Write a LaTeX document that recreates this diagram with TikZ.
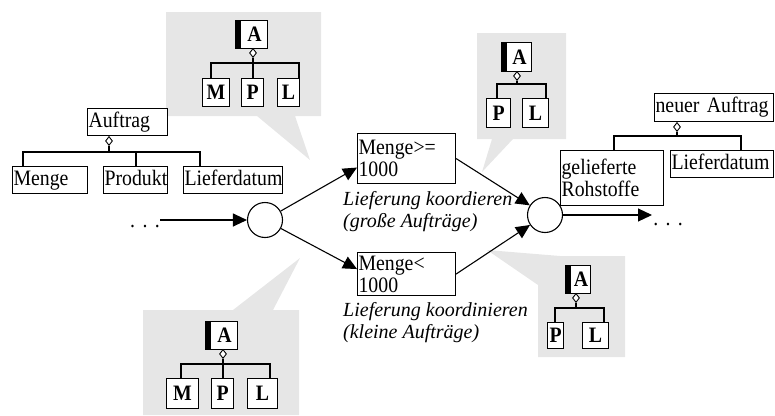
\documentclass[tikz,border=0pt]{standalone}
\usepackage{fontspec}
\setmainfont[FakeStretch=0.9]{Liberation Serif}
\newfontfamily\plainserif{Liberation Serif}
\usetikzlibrary{arrows.meta,shapes.geometric}
\definecolor{callout}{HTML}{E6E6E6}
\newcommand\myfs{\fontsize{22}{22}\selectfont}
\begin{document}
\begin{tikzpicture}[x=1pt,y=-1pt,
 ln/.style={line width=1.1pt},
 arr/.style={ln,-{Triangle[length=14pt,width=13pt]}},
 box/.style={draw, fill=white, line width=1.1pt, anchor=north west, font=\myfs, inner ysep=0pt, inner xsep=1pt, align=left},
 one/.style={text height=14.5pt, text depth=4.5pt},
 sq/.style={draw, fill=white, line width=1.1pt, anchor=north west, font=\myfs\bfseries, inner sep=0pt, text height=14.5pt, text depth=0pt},
 dia/.style={diamond, draw, fill=white, line width=0.9pt, inner sep=0pt, minimum width=7pt, minimum height=9pt, anchor=north},
 circ/.style={circle, draw, line width=1.1pt, minimum size=35pt, inner sep=0pt},
 lab/.style={font=\plainserif\fontsize{20}{22}\selectfont\itshape, align=left, anchor=west, inner sep=0pt},
 dots/.style={font=\myfs, anchor=base, inner sep=0pt},
]
\useasboundingbox (0,0) rectangle (775,415);

% callouts
\fill[callout] (166,12) -- (321,12) -- (321,116) -- (295,116) -- (310,160) -- (257,116) -- (166,116) -- cycle;
\fill[callout] (477,33) -- (566,33) -- (566,139) -- (513,139) -- (482,172) -- (492,139) -- (477,139) -- cycle;
\fill[callout] (143,310) -- (233,310) -- (300,258) -- (273,310) -- (299,310) -- (299,415) -- (143,415) -- cycle;
\fill[callout] (560,256) -- (625,256) -- (625,357) -- (538,357) -- (538,285) -- (487,250) -- cycle;

% Auftrag
\node[box,one,text width=78pt,minimum height=27pt] (auf) at (87,108) {Auftrag};
\node[box,one,text width=73pt,minimum height=27pt] (men) at (12,166) {Menge};
\node[box,one,text width=62pt,minimum height=27pt] (prod) at (103,166) {Produkt};
\node[box,one,text width=97pt,minimum height=27pt] (lief) at (183,166) {Lieferdatum};
\node[dia] (d1) at (109,136) {};
\coordinate (b1l) at (23,152);
\coordinate (b1m) at (136,152);
\coordinate (b1r) at (200,152);
\draw[ln] (d1.south) -- (d1.south |- b1l);
\draw[ln] (b1l |- men.north) -- (b1l) -- (b1r) -- (b1r |- lief.north);
\draw[ln] (b1m) -- (b1m |- prod.north);

% top-left callout content
\node[sq,minimum width=32pt,minimum height=28pt] (tlA) at (235,20) {\hspace{6pt}A};
\node[sq,minimum width=27pt,minimum height=28pt] (tlM) at (202,78) {M};
\node[sq,minimum width=22pt,minimum height=28pt] (tlP) at (241,78) {P};
\node[sq,minimum width=22pt,minimum height=28pt] (tlL) at (277,78) {L};
\node[dia] (tld) at (253,48) {};
\coordinate (tlb1) at (211,63);
\coordinate (tlb2) at (253,63);
\coordinate (tlb3) at (299,63);
\draw[ln] (tld.south) -- (tlb2);
\draw[ln] (tlb1 |- tlM.north) -- (tlb1) -- (tlb3) -- (tlb3 |- tlL.north);
\draw[ln] (tlb2) -- (tlb2 |- tlP.north);

% top-right callout content
\node[sq,minimum width=30pt,minimum height=29pt] (trA) at (501,42) {\hspace{6pt}A};
\node[sq,minimum width=24pt,minimum height=29pt] (trP) at (486,98) {P};
\node[sq,minimum width=26pt,minimum height=29pt] (trL) at (522,98) {L};
\node[dia] (trd) at (517,71) {};
\coordinate (trb1) at (497,84);
\coordinate (trb2) at (546,84);
\draw[ln] (trd.south) -- (trd.south |- trb1);
\draw[ln] (trb1 |- trP.north) -- (trb1) -- (trb2) -- (trb2 |- trL.north);

% bottom-right callout content
\node[sq,minimum width=25pt,minimum height=28pt] (brA) at (565,265) {\hspace{6pt}A};
\node[sq,minimum width=16pt,minimum height=26pt] (brP) at (547,322) {P};
\node[sq,minimum width=26pt,minimum height=26pt] (brL) at (582,322) {L};
\node[dia] (brd) at (576,293) {};
\coordinate (brb1) at (555,308);
\coordinate (brb2) at (604,308);
\draw[ln] (brd.south) -- (brd.south |- brb1);
\draw[ln] (brb1 |- brP.north) -- (brb1) -- (brb2) -- (brb2 |- brL.north);

% bottom-left callout content
\node[sq,minimum width=32pt,minimum height=28pt] (blA) at (205,321) {\hspace{6pt}A};
\node[sq,minimum width=32pt,minimum height=30pt] (blM) at (166,378) {M};
\node[sq,minimum width=22pt,minimum height=30pt] (blP) at (211,378) {P};
\node[sq,minimum width=30pt,minimum height=30pt] (blL) at (247,378) {L};
\node[dia] (bld) at (223,349) {};
\coordinate (blb1) at (181,364);
\coordinate (blb2) at (223,364);
\coordinate (blb3) at (270,364);
\draw[ln] (bld.south) -- (blb2);
\draw[ln] (blb1 |- blM.north) -- (blb1) -- (blb3) -- (blb3 |- blL.north);
\draw[ln] (blb2) -- (blb2 |- blP.north);

% black bars
\foreach \n in {tlA,trA,brA,blA}
  \fill (\n.north west) rectangle ([xshift=6pt]\n.south west);

% process
\node[circ] (c1) at (265,220) {};
\node[circ] (c2) at (545,215) {};
\node[box,text width=96pt,minimum height=50pt] (mg1) at (357,133) {Menge>=\\1000};
\node[box,text width=96pt,minimum height=43pt] (mg2) at (357,252) {Menge<\\1000};
\node[lab] (l1) at (343,212) {Lieferung koordieren\\(große Aufträge)};
\node[lab] (l2) at (343,323) {Lieferung koordinieren\\(kleine Aufträge)};

% result
\node[box,one,text width=117pt,minimum height=28pt] (neu) at (654,93) {neuer Auftrag};
\node[box,text width=101pt,minimum height=55pt] (gel) at (560,150) {gelieferte\\Rohstoffe};
\node[box,one,text width=101pt,minimum height=27pt] (lief2) at (670,150) {Lieferdatum};
\node[dia] (d2) at (677,122) {};
\coordinate (rb1) at (614,136);
\coordinate (rb2) at (741,136);
\draw[ln] (d2.south) -- (d2.south |- rb1);
\draw[ln] (rb1 |- gel.north) -- (rb1) -- (rb2) -- (rb2 |- lief2.north);

% arrows
\node[dots] (dotl) at (145,227) {.\,\,.\,\,.};
\coordinate (s1) at (160,220);
\draw[arr] (s1) -- (c1);
\draw[arr] (c1) -- ([yshift=-9pt]mg1.west);
\draw[arr] (c1) -- ([yshift=5pt]mg2.west);
\draw[arr] (mg1.east) -- (c2);
\draw[arr] (mg2.east) -- (c2);
\coordinate (e2) at (652,215);
\draw[arr] (c2) -- (e2);
\node[dots] (dotr) at (668,225) {.\,\,.\,\,.};
\end{tikzpicture}
\end{document}
